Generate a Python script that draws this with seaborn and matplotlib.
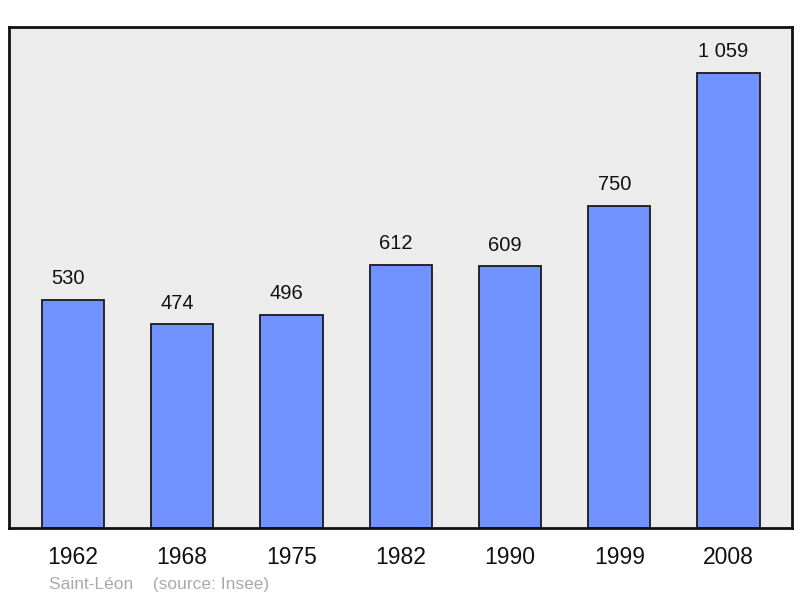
import matplotlib
matplotlib.use("Agg")
import matplotlib.pyplot as plt
import seaborn as sns
import pandas as pd

years = ["1962", "1968", "1975", "1982", "1990", "1999", "2008"]
population = [530, 474, 496, 612, 609, 750, 1059]
value_labels = ["530", "474", "496", "612", "609", "750", "1 059"]

sns.set_theme(style="white")
plt.rcParams['font.family'] = ['Liberation Sans', 'DejaVu Sans']

df = pd.DataFrame({"year": years, "pop": population})

fig = plt.figure(figsize=(8, 5.98), dpi=100)
ax = fig.add_axes([9/800, 70/598, 783/800, 501/598])
ax.set_facecolor("#ececec")

sns.barplot(data=df, x="year", y="pop", color="#7093ff", saturation=1,
            width=0.57, edgecolor="#1a1a1a", linewidth=1.3, ax=ax)

for i, (v, lab) in enumerate(zip(population, value_labels)):
    ax.annotate(lab, (i, v), xytext=(-3.6, 8.5), textcoords="offset points",
                ha="center", va="bottom", fontsize=14.5, color="#111111")

ax.set_xlim(-0.585, 6.58)
ax.set_ylim(0, 1166)
ax.set_yticks([])
ax.set_xlabel("")
ax.set_ylabel("")
ax.tick_params(axis="x", length=0, pad=13, labelsize=16.5, colors="#111111")
for s in ax.spines.values():
    s.set_visible(True)
    s.set_color("#111111")
    s.set_linewidth(2)

fig.text(49/800, 1 - 585/598, "Saint-Léon    (source: Insee)", fontsize=12.5,
         color="#aaaaaa", va="center", ha="left")

fig.savefig("out.png", dpi=100)
